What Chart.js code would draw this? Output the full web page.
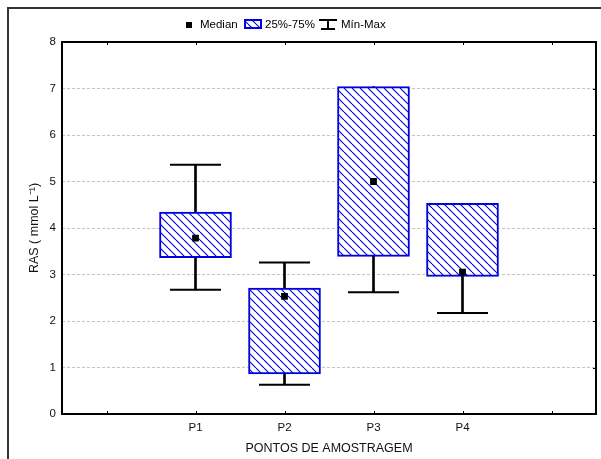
<!DOCTYPE html>
<html>
<head>
<meta charset="utf-8">
<script src="https://cdn.jsdelivr.net/npm/chart.js@4"></script>
<style>
  body { margin: 0; background: #fff; }
  #wrap { width: 601px; height: 459px; }
</style>
</head>
<body>
<div id="wrap"><canvas id="box-chart" width="601" height="459"></canvas></div>
<script>
// categories (empty slots at both ends, like the original plot)
const categories = ['', 'P1', 'P2', 'P3', 'P4', '']
const minValues = [null, 2.67, 0.63, 2.62, 2.17, null]
const q1Values = [null, 3.36, 0.86, 3.39, 2.96, null]
const medianValues = [null, 3.78, 2.53, 5.00, 3.05, null]
const q3Values = [null, 4.34, 2.71, 7.04, 4.53, null]
const maxValues = [null, 5.36, 3.26, 7.04, 4.53, null]
const yMin = 0
const yMax = 8
const yStep = 1

const FONT = '"Liberation Sans", Arial, sans-serif'
const BLUE = '#0000e0'

Chart.defaults.font.family = FONT
Chart.defaults.font.size = 11.5
Chart.defaults.color = '#111'

// diagonal hatch, like the 25%-75% boxes
function hatchPattern(ctx) {
    const s = 8
    const c = document.createElement('canvas')
    c.width = s
    c.height = s
    const g = c.getContext('2d')
    g.fillStyle = '#fff'
    g.fillRect(0, 0, s, s)
    g.strokeStyle = BLUE
    g.lineWidth = 1.1
    g.beginPath()
    for (const k of [-s, 0, s]) {
        g.moveTo(k, 0)
        g.lineTo(k + s, s)
    }
    g.stroke()
    return ctx.createPattern(c, 'repeat')
}

const canvas = document.getElementById('box-chart')
const hatch = hatchPattern(canvas.getContext('2d'))

const boxData = categories.map((c, i) => q1Values[i] == null ? null : [q1Values[i], q3Values[i]])
const whiskerData = categories.map((c, i) => minValues[i] == null ? null : [minValues[i], maxValues[i]])
// a cap that sits on the box edge is hidden by the box in the original
const maxCaps = maxValues.map((v, i) => v != null && v > q3Values[i] ? v : null)
const minCaps = minValues.map((v, i) => v != null && v < q1Values[i] ? v : null)

// frame, inward ticks and legend
const decorations = {
    id: 'decorations',
    afterDraw(chart) {
        const ctx = chart.ctx
        const a = chart.chartArea
        const x = chart.scales.x
        const y = chart.scales.y
        ctx.save()

        // outer frame (left and top edges visible)
        ctx.strokeStyle = '#333'
        ctx.lineWidth = 2
        ctx.beginPath()
        ctx.moveTo(8, 459)
        ctx.lineTo(8, 8)
        ctx.lineTo(601, 8)
        ctx.stroke()

        // plot frame
        ctx.strokeStyle = '#000'
        ctx.lineWidth = 2
        ctx.strokeRect(a.left, a.top, a.right - a.left, a.bottom - a.top)

        // small ticks
        ctx.lineWidth = 1
        ctx.beginPath()
        categories.forEach((c, i) => {
            const px = Math.round(x.getPixelForTick(i)) + 0.5
            ctx.moveTo(px, a.bottom)
            ctx.lineTo(px, a.bottom - 3)
            ctx.moveTo(px, a.top)
            ctx.lineTo(px, a.top + 3)
        })
        for (let v = yMin + yStep; v < yMax; v += yStep) {
            const py = Math.round(y.getPixelForValue(v)) + 0.5
            ctx.moveTo(a.right, py)
            ctx.lineTo(a.right - 3, py)
        }
        ctx.stroke()

        // legend
        ctx.font = '11.5px ' + FONT
        ctx.textBaseline = 'middle'
        ctx.fillStyle = '#000'
        ctx.fillRect(186, 22, 6, 6)
        ctx.fillText('Median', 200, 25)

        ctx.fillStyle = hatch
        ctx.fillRect(245, 20, 16, 8)
        ctx.strokeStyle = BLUE
        ctx.lineWidth = 2
        ctx.strokeRect(245, 20, 16, 8)
        ctx.fillStyle = '#000'
        ctx.fillText('25%-75%', 265, 25)

        ctx.strokeStyle = '#000'
        ctx.lineWidth = 2
        ctx.beginPath()
        ctx.moveTo(319, 20)
        ctx.lineTo(337, 20)
        ctx.moveTo(328, 20)
        ctx.lineTo(328, 29)
        ctx.moveTo(321, 29)
        ctx.lineTo(335, 29)
        ctx.stroke()
        ctx.fillText('Mín-Max', 341, 25)

        ctx.restore()
    }
}

const chart = new Chart(canvas, {
    type: 'bar',
    data: {
        labels: categories,
        datasets: [
            {
                // whisker stem
                type: 'bar',
                data: whiskerData,
                backgroundColor: '#000',
                borderWidth: 0,
                barThickness: 2,
                grouped: false,
                order: 4
            },
            {
                // whisker caps (max)
                type: 'line',
                data: maxCaps,
                showLine: false,
                pointStyle: 'line',
                pointRadius: 25.5,
                pointBorderWidth: 2,
                pointBorderColor: '#000',
                order: 3
            },
            {
                // whisker caps (min)
                type: 'line',
                data: minCaps,
                showLine: false,
                pointStyle: 'line',
                pointRadius: 25.5,
                pointBorderWidth: 2,
                pointBorderColor: '#000',
                order: 3
            },
            {
                // 25%-75% box
                type: 'bar',
                data: boxData,
                backgroundColor: hatch,
                borderColor: BLUE,
                borderWidth: 2,
                borderSkipped: false,
                barThickness: 72,
                grouped: false,
                order: 2
            },
            {
                // median
                type: 'line',
                data: medianValues,
                showLine: false,
                pointStyle: 'rect',
                pointRadius: 4.8,
                pointBackgroundColor: '#000',
                pointBorderWidth: 0,
                order: 1
            }
        ]
    },
    options: {
        responsive: false,
        animation: false,
        layout: { autoPadding: false, padding: { left: 9, right: 5, top: 42, bottom: 0 } },
        plugins: {
            legend: { display: false },
            tooltip: { enabled: false }
        },
        scales: {
            x: {
                offset: true,
                grid: { display: false, drawTicks: false },
                border: { display: false },
                ticks: { padding: 7, color: '#111' },
                title: {
                    display: true,
                    text: 'PONTOS DE AMOSTRAGEM',
                    color: '#111',
                    font: { size: 12.5 },
                    padding: { top: 4, bottom: 3 }
                },
                afterFit(s) { s.height = 45 }
            },
            y: {
                min: yMin,
                max: yMax,
                ticks: { stepSize: yStep, padding: 6, color: '#111' },
                grid: { color: '#c4c4c4', lineWidth: 1, drawTicks: false },
                border: { display: false, dash: [3, 2] },
                title: {
                    display: true,
                    text: 'RAS ( mmol L⁻¹)',
                    color: '#111',
                    font: { size: 12.5 },
                    padding: { top: 18, bottom: 0 }
                },
                afterFit(s) { s.width = 53 }
            }
        }
    },
    plugins: [decorations]
})
</script>
</body>
</html>
